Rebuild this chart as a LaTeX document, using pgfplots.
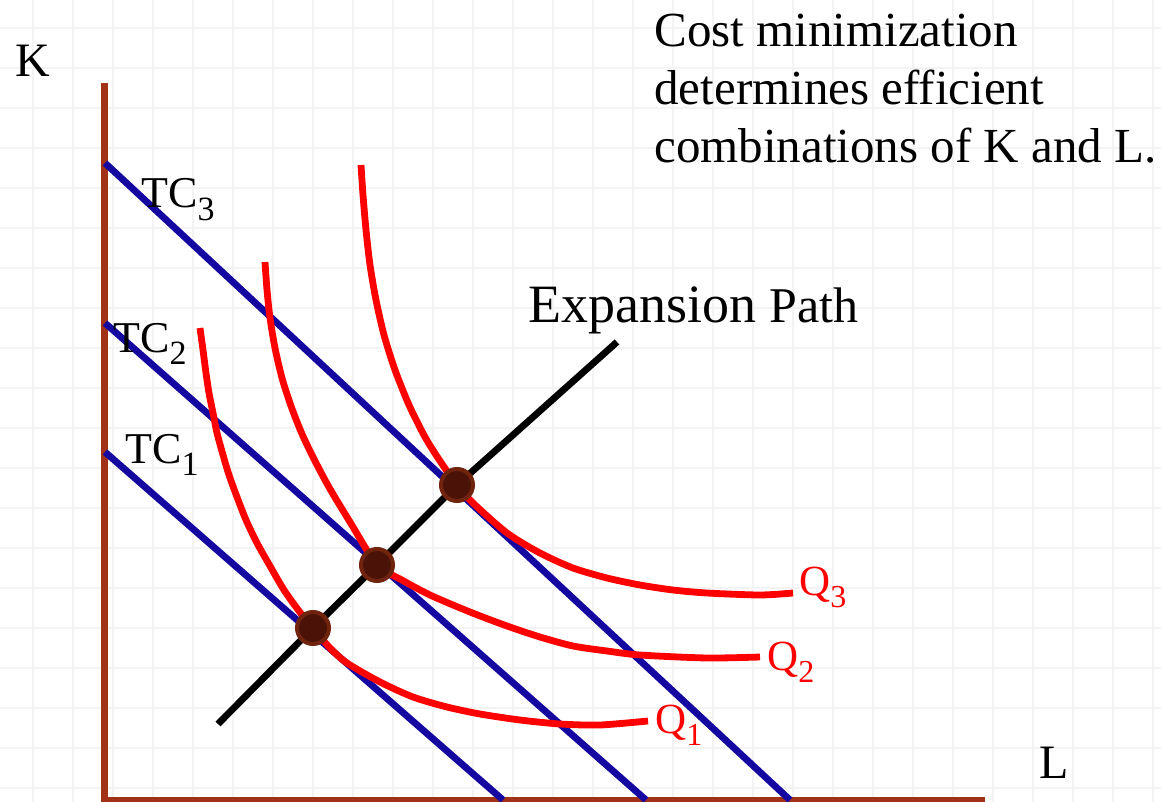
\documentclass[border=0pt]{standalone}
\usepackage{pgfplots}
\pgfplotsset{compat=1.18}
\usepackage{fontspec}
\setmainfont{Liberation Serif}
\definecolor{axbrown}{RGB}{162,50,22}
\definecolor{tcblue}{RGB}{20,8,160}
\definecolor{dotfill}{RGB}{75,18,8}
\definecolor{dotedge}{RGB}{112,36,14}
\definecolor{gridc}{RGB}{243,243,243}
\newcommand{\fs}[1]{\fontsize{#1}{#1}\selectfont}
\newcommand{\sub}[2]{\raisebox{-6pt}{\fs{#1}#2}}

\begin{document}
\begin{tikzpicture}
\begin{axis}[name=ax, scale only axis, width=580.5pt, height=401pt,
  xmin=0, xmax=1161, ymin=0, ymax=802, y dir=reverse,
  hide axis, clip=false]

% faint background grid
\pgfplotsinvokeforeach{33,73,...,1153}{\draw[gridc, line width=1pt] (axis cs:#1,0) -- (axis cs:#1,802);}
\pgfplotsinvokeforeach{28,68,...,788}{\draw[gridc, line width=1pt] (axis cs:0,#1) -- (axis cs:1161,#1);}

% axes
\draw[axbrown, line width=3.4pt] (axis cs:104.5,83) -- (axis cs:104.5,802);
\draw[axbrown, line width=3.2pt] (axis cs:102,800) -- (axis cs:985,800);

% total cost lines
\addplot[tcblue, line width=3.4pt, no markers] coordinates {(105,452) (503,800)};
\addplot[tcblue, line width=3.4pt, no markers] coordinates {(105,323) (646,800)};
\addplot[tcblue, line width=3.4pt, no markers] coordinates {(105,163) (790,800)};

% isoquants
\addplot[red, line width=3.4pt, smooth, tension=0.45, no markers] coordinates {
 (200,328) (203,350) (206,373) (209,393) (213,413) (217,433) (223,455) (229,475) (237,497)
 (246,520) (257,543) (270,566) (284,590) (299,611) (313,628)
 (330,648) (347,663) (380,682) (413,697) (447,707) (480,714) (520,720) (560,724) (600,725) (648,721)};
\addplot[red, line width=3.4pt, smooth, tension=0.45, no markers] coordinates {
 (265,262) (267,290) (270,318) (275,348) (282,378) (291,406) (302,434) (315,461) (330,489)
 (350,522) (377,565)
 (400,579) (430,595) (470,612) (507,626) (540,637) (573,646) (607,651) (640,655) (707,658) (760,657)};
\addplot[red, line width=3.4pt, smooth, tension=0.45, no markers] coordinates {
 (361,165) (363,195) (366,230) (370,265) (376,300) (384,335) (395,370) (409,405) (425,437)
 (440,461) (457,485) (473,503) (507,533) (540,553) (573,568) (607,578) (640,585)
 (673,590) (707,593) (760,595) (793,593)};

% expansion path
\addplot[black, line width=3.4pt, no markers] coordinates {(218,724) (313,628) (377,565) (457,485) (617,342)};

% optimal points
\addplot[only marks, mark=*, mark size=8pt, mark options={fill=dotfill, draw=dotedge, line width=2pt}]
 coordinates {(313,628) (377,565) (457,485)};

% labels
\node[anchor=base west, inner sep=0] at (axis cs:15,77) {\fs{24pt}K};
\node[anchor=base west, inner sep=0] at (axis cs:1039,778) {\fs{24pt}L};
\node[anchor=base west, inner sep=0] at (axis cs:141,208) {\fs{22pt}TC\sub{17pt}{3}};
\node[anchor=base west, inner sep=0] at (axis cs:113,352) {\fs{22pt}TC\sub{17pt}{2}};
\node[anchor=base west, inner sep=0] at (axis cs:125,463) {\fs{22pt}TC\sub{17pt}{1}};
\node[anchor=base west, inner sep=0, text=red] at (axis cs:799,595) {\fs{21.5pt}Q\sub{16pt}{3}};
\node[anchor=base west, inner sep=0, text=red] at (axis cs:767,670) {\fs{21.5pt}Q\sub{16pt}{2}};
\node[anchor=base west, inner sep=0, text=red] at (axis cs:655,733) {\fs{21.5pt}Q\sub{16pt}{1}};
\node[anchor=base west, inner sep=0] at (axis cs:528,322) {\fs{27pt}Expansion {\fs{25pt}Path}};
\node[anchor=base west, inner sep=0] at (axis cs:654,47) {\fs{24.5pt}Cost minimization};
\node[anchor=base west, inner sep=0] at (axis cs:654,105) {\fs{24.5pt}determines efficient};
\node[anchor=base west, inner sep=0] at (axis cs:654,163) {\fs{24.5pt}combinations of K and L.};
\end{axis}
\pgfresetboundingbox
\path[use as bounding box] (ax.south west) rectangle (ax.north east);
\end{tikzpicture}
\end{document}
